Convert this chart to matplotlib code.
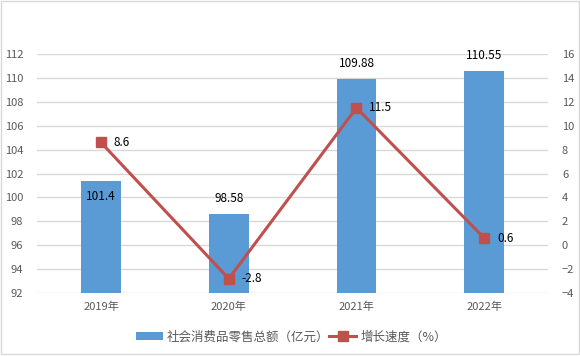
import matplotlib.pyplot as plt
from matplotlib.patches import Rectangle

plt.rcParams['font.family'] = ['Noto Sans CJK SC', 'DejaVu Sans']

years = ['2019年', '2020年', '2021年', '2022年']
sales = [101.4, 98.58, 109.88, 110.55]
growth = [8.6, -2.8, 11.5, 0.6]
sales_labels = ['101.4', '98.58', '109.88', '110.55']
growth_labels = ['8.6', '-2.8', '11.5', '0.6']

bar_color = '#5B9BD5'
line_color = '#C0504D'
tick_color = '#595959'
grid_color = '#D9D9D9'

fig = plt.figure(figsize=(5.8, 3.56), dpi=100)
ax = fig.add_axes([0.064, 0.177, 0.881, 0.671])
ax2 = ax.twinx()

x = list(range(len(years)))
ax.bar(x, sales, width=0.31, color=bar_color, zorder=2, label='社会消费品零售总额（亿元）')
ax.set_ylim(92, 112)
ax.set_yticks(range(92, 113, 2))
ax.set_xlim(-0.5, 3.5)
ax.set_xticks(x)
ax.set_xticklabels(years)
ax.grid(axis='y', color=grid_color, linewidth=1, zorder=0)
ax.set_axisbelow(True)

# first label sits inside the bar, the rest above it
for i, (v, s) in enumerate(zip(sales, sales_labels)):
    off = -1.35 if i == 0 else 1.35
    ax.text(i, v + off, s, ha='center', va='center', fontsize=8.5, color='black', zorder=5)

ax2.plot(x, growth, color=line_color, linewidth=2.2, marker='s', markersize=7,
         zorder=4, label='增长速度（%）')
ax2.set_ylim(-4, 16)
ax2.set_yticks(range(-4, 17, 2))
for i, (v, s) in enumerate(zip(growth, growth_labels)):
    ax2.text(i + 0.1, v, s, ha='left', va='center', fontsize=8.5, color='black', zorder=5)

for a in (ax, ax2):
    for sp in a.spines.values():
        sp.set_visible(False)
    a.tick_params(length=0, labelsize=8, colors=tick_color)
ax.tick_params(axis='y', pad=10)
ax2.tick_params(axis='y', pad=10)
ax.tick_params(axis='x', pad=6)

h1, l1 = ax.get_legend_handles_labels()
h2, l2 = ax2.get_legend_handles_labels()
fig.legend(h1 + h2, l1 + l2, loc='center', bbox_to_anchor=(0.502, 0.053), ncol=2,
           frameon=False, fontsize=9, handlelength=2.2, handleheight=0.6,
           handletextpad=0.3, columnspacing=-0.05, labelcolor=tick_color)

fig.patches.append(Rectangle((0.001, 0.006), 0.997, 0.99, transform=fig.transFigure,
                             fill=False, edgecolor='#D9D9D9', linewidth=1))

fig.savefig('out.png', dpi=100)
